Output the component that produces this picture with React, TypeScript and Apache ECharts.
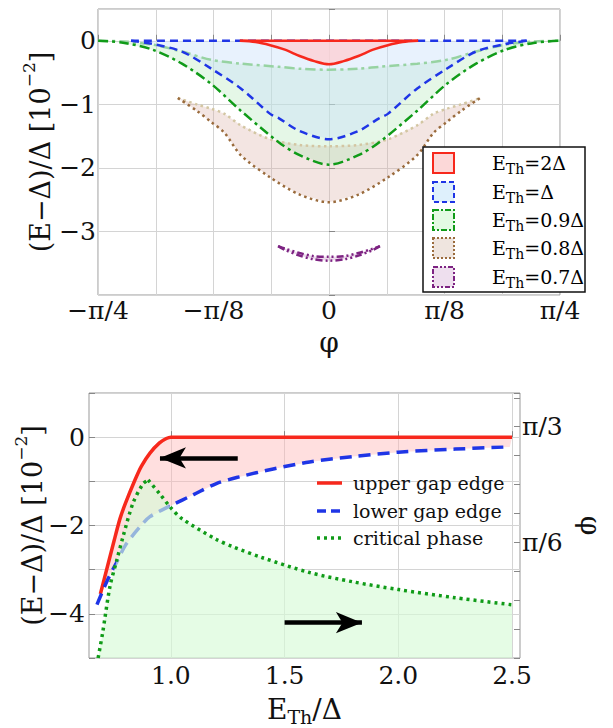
import React, { useEffect, useRef } from 'react';
import * as echarts from 'echarts';

const PI = Math.PI;
const SERIF = 'DejaVu Serif';

// ---------- Top panel: (E−Δ)/Δ [10^-2] versus φ ----------
const redUpperPhi = [-0.303, 0.303];
const redUpperE = [0, 0];
const redPhi = [-0.303, -0.25, -0.2, -0.15, -0.1, -0.05, 0, 0.05, 0.1, 0.15, 0.2, 0.25, 0.303];
const redLowerE = [0, -0.02, -0.07, -0.14, -0.24, -0.32, -0.37, -0.32, -0.24, -0.14, -0.07, -0.02, 0];

const blueUpperPhi = [-0.673, 0.673];
const blueUpperE = [0, 0];
const bluePhi = [-0.673, -0.6, -0.5, -0.4, -0.3, -0.2, -0.17, -0.1, 0, 0.1, 0.17, 0.2, 0.3, 0.4, 0.5, 0.6, 0.673];
const blueLowerE = [0, -0.05, -0.17, -0.44, -0.75, -1.15, -1.22, -1.42, -1.55, -1.42, -1.22, -1.15, -0.75, -0.44, -0.17, -0.05, 0];

const greenPhi = [-0.785, -0.7, -0.6, -0.5, -0.4, -0.3, -0.17, -0.1, 0, 0.1, 0.17, 0.3, 0.4, 0.5, 0.6, 0.7, 0.785];
const greenLowerE = [0, -0.03, -0.14, -0.36, -0.68, -1.1, -1.6, -1.8, -1.95, -1.8, -1.6, -1.1, -0.68, -0.36, -0.14, -0.03, 0];
const greenUpperE = [0, -0.01, -0.06, -0.17, -0.3, -0.36, -0.41, -0.44, -0.455, -0.44, -0.41, -0.36, -0.3, -0.17, -0.06, -0.01, 0];

const brownPhi = [-0.514, -0.45, -0.4, -0.355, -0.3, -0.2, -0.1, 0, 0.1, 0.2, 0.3, 0.355, 0.4, 0.45, 0.514];
const brownUpperE = [-0.9, -1.0, -1.07, -1.15, -1.33, -1.55, -1.64, -1.66, -1.64, -1.55, -1.33, -1.15, -1.07, -1.0, -0.9];
const brownLowerE = [-0.9, -1.1, -1.28, -1.45, -1.8, -2.15, -2.42, -2.54, -2.42, -2.15, -1.8, -1.45, -1.28, -1.1, -0.9];

const purplePhi = [-0.173, -0.15, -0.1, -0.05, 0, 0.05, 0.1, 0.15, 0.173];
const purpleUpperE = [-3.23, -3.27, -3.34, -3.39, -3.4, -3.39, -3.34, -3.27, -3.23];
const purpleLowerE = [-3.23, -3.29, -3.38, -3.44, -3.46, -3.44, -3.38, -3.29, -3.23];

const topLegendLabels = ['2Δ', 'Δ', '0.9Δ', '0.8Δ', '0.7Δ'];

// ---------- Bottom panel: versus E_Th/Δ ----------
const upperEdgeX = [0.69, 0.72, 0.75, 0.776, 0.8, 0.842, 0.87, 0.908, 0.95, 0.98, 1.0, 1.5, 2.0, 2.5];
const upperEdgeE = [-3.55, -2.95, -2.35, -1.85, -1.5, -0.97, -0.66, -0.36, -0.13, -0.03, 0, 0, 0, 0];

const lowerEdgeX = [0.675, 0.72, 0.76, 0.8, 0.864, 0.908, 1.0, 1.1, 1.2, 1.3, 1.45, 1.61, 1.8, 2.0, 2.25, 2.49];
const lowerEdgeE = [-3.79, -3.25, -2.85, -2.45, -2.03, -1.8, -1.55, -1.3, -1.05, -0.9, -0.72, -0.56, -0.44, -0.34, -0.27, -0.22];

const critX = [0.68, 0.7, 0.732, 0.763, 0.79, 0.833, 0.877, 0.9, 0.95, 1.0, 1.05, 1.2, 1.27, 1.4, 1.61, 1.8, 2.0, 2.25, 2.5];
const critPhi = [0, 0.114, 0.323, 0.446, 0.551, 0.7, 0.788, 0.806, 0.745, 0.68, 0.63, 0.537, 0.505, 0.455, 0.387, 0.345, 0.31, 0.273, 0.241];

const bottomLegendLabels = ['upper gap edge', 'lower gap edge', 'critical phase'];

const zip = (xs: number[], ys: number[]) => xs.map((x, i) => [x, ys[i]]);

function fillBetween(upper: number[][], lower: number[][], color: string, xi: number, yi: number, z = 1) {
  return {
    type: 'custom',
    xAxisIndex: xi,
    yAxisIndex: yi,
    silent: true,
    z,
    clip: true,
    data: [upper[0]],
    renderItem: (_p: any, api: any) => {
      const pts = [...upper.map((p) => api.coord(p)), ...lower.slice().reverse().map((p) => api.coord(p))];
      return { type: 'polygon', shape: { points: pts }, style: { fill: color, stroke: 'none' } };
    },
  };
}

function curve(data: number[][], color: string, width: number, dash: any, xi: number, yi: number, z = 3, extra: any = {}) {
  return {
    type: 'line',
    data,
    xAxisIndex: xi,
    yAxisIndex: yi,
    showSymbol: false,
    symbol: 'none',
    smooth: 0.3,
    silent: true,
    z,
    lineStyle: { color, width, type: dash, cap: 'butt' },
    ...extra,
  };
}

const minus = (v: number) => (v < 0 ? '\u2212' + String(-v) : String(v));

function piLabel(v: number, unit: number, map: Record<number, string>) {
  const k = Math.round(v / unit);
  if (Math.abs(v - k * unit) > 1e-6) return '';
  return map[k] ?? '';
}

export default function App() {
  const ref = useRef<HTMLDivElement>(null);
  useEffect(() => {
    if (!ref.current) return;
    const chart = echarts.init(ref.current, undefined, { renderer: 'svg' });

    const tickFont = { fontFamily: SERIF, fontSize: 25, color: '#111' };
    const gridLine = { show: true, lineStyle: { color: '#d4d4d4', width: 1 } };
    const tick = { show: true, inside: true, length: 6, lineStyle: { color: '#888' } };
    const phiFont = { fontFamily: SERIF, fontSize: 28, color: '#111', lineHeight: 24 };

    const yName = '{a|(E\u2212\u0394)/\u0394 [10}{p|\u22122}{a|]}';
    const yRich = {
      a: { fontFamily: SERIF, fontSize: 27, color: '#111', lineHeight: 40 },
      p: { fontFamily: SERIF, fontSize: 17, color: '#111', verticalAlign: 'top' },
    };

    const peak = critPhi.indexOf(Math.max(...critPhi));
    const critData = zip(critX, critPhi);

    const colors = {
      red: '#f7281c',
      blue: '#1f35e6',
      green: '#109b18',
      greenPale: '#97d3a2',
      brown: '#9a6b3c',
      brownPale: '#d3c6a2',
      purple: '#7d2382',
    };

    const legendStyles = [
      { stroke: colors.red, fill: 'rgba(250,190,190,0.6)', dash: null },
      { stroke: colors.blue, fill: 'rgba(190,225,250,0.5)', dash: [5, 3] },
      { stroke: colors.green, fill: 'rgba(200,245,200,0.5)', dash: [6, 2, 2, 2] },
      { stroke: colors.brown, fill: 'rgba(215,190,175,0.4)', dash: [2, 2] },
      { stroke: colors.purple, fill: 'rgba(200,150,200,0.3)', dash: [5, 2, 2, 2, 2, 2] },
    ];
    const legendRowY = [163, 192, 220, 248, 277];

    const graphics: any[] = [
      { type: 'rect', z: 100, shape: { x: 423, y: 147, width: 162, height: 145 }, style: { fill: '#fff', stroke: '#111', lineWidth: 1.5 } },
    ];
    topLegendLabels.forEach((lab, i) => {
      const s = legendStyles[i];
      graphics.push({
        type: 'rect', z: 101,
        shape: { x: 433, y: legendRowY[i] - 10, width: 21, height: 20 },
        style: { fill: s.fill, stroke: s.stroke, lineWidth: 2, lineDash: s.dash },
      });
      graphics.push({
        type: 'text', z: 101, x: 492, y: legendRowY[i],
        style: {
          text: '{a|E}{s|Th}{a|=' + lab + '}',
          verticalAlign: 'middle',
          rich: {
            a: { fontFamily: SERIF, fontSize: 19, color: '#111', lineHeight: 26 },
            s: { fontFamily: SERIF, fontSize: 14, color: '#111', verticalAlign: 'bottom' },
          },
        },
      });
    });
    const bottomRowY = [483, 511, 538];
    const bottomStyles = [
      { c: colors.red, dash: null },
      { c: colors.blue, dash: [9, 5] },
      { c: colors.green, dash: [3, 4] },
    ];
    bottomLegendLabels.forEach((lab, i) => {
      graphics.push({
        type: 'line', z: 101,
        shape: { x1: 317, y1: bottomRowY[i], x2: 342, y2: bottomRowY[i] },
        style: { stroke: bottomStyles[i].c, lineWidth: 3.5, lineDash: bottomStyles[i].dash },
      });
      graphics.push({
        type: 'text', z: 101, x: 353, y: bottomRowY[i],
        style: { text: lab, fontFamily: SERIF, fontSize: 19, fill: '#111', verticalAlign: 'middle' },
      });
    });

    const option: any = {
      animation: false,
      backgroundColor: '#fff',
      textStyle: { fontFamily: SERIF },
      grid: [
        { left: 98, top: 9, width: 462, height: 286, show: true, borderColor: '#999', borderWidth: 1 },
        { left: 89, top: 393, width: 431, height: 265, show: true, borderColor: '#999', borderWidth: 1 },
      ],
      xAxis: [
        {
          gridIndex: 0, type: 'value', min: -PI / 4, max: PI / 4, interval: PI / 16,
          axisLine: { show: false }, axisTick: tick, splitLine: gridLine,
          axisLabel: {
            ...tickFont, margin: 4, lineHeight: 22,
            formatter: (v: number) => piLabel(v, PI / 16, { [-4]: '\u2212\u03c0/4', [-2]: '\u2212\u03c0/8', 0: '0', 2: '\u03c0/8', 4: '\u03c0/4' }),
          },
          name: '\u03c6', nameLocation: 'middle', nameGap: 35, nameMoveOverlap: false, nameTextStyle: phiFont,
        },
        {
          gridIndex: 1, type: 'value', min: 0.64, max: 2.535,
          axisLine: { show: false },
          axisTick: { ...tick, customValues: [1, 1.5, 2, 2.5] },
          splitLine: gridLine,
          axisLabel: { ...tickFont, margin: 5, customValues: [1, 1.5, 2, 2.5], formatter: (v: number) => v.toFixed(1) },
          name: '{a|E}{s|Th}{a|/\u0394}', nameLocation: 'middle', nameGap: 34, nameMoveOverlap: false,
          nameTextStyle: {
            rich: {
              a: { fontFamily: SERIF, fontSize: 28, color: '#111', lineHeight: 34 },
              s: { fontFamily: SERIF, fontSize: 19, color: '#111', verticalAlign: 'bottom' },
            },
          },
        },
      ],
      yAxis: [
        {
          gridIndex: 0, type: 'value', min: -4, max: 0.5, interval: 1,
          axisLine: { show: false }, axisTick: tick, splitLine: gridLine,
          axisLabel: {
            ...tickFont, margin: 2,
            formatter: (v: number) => (Number.isInteger(v) && v >= -3 && v <= 0 ? minus(v) : ''),
          },
          name: yName, nameLocation: 'middle', nameGap: 38, nameRotate: 90, nameMoveOverlap: false, nameTextStyle: { rich: yRich },
        },
        {
          gridIndex: 1, type: 'value', min: -5, max: 1, interval: 1,
          axisLine: { show: false }, axisTick: tick, splitLine: gridLine,
          axisLabel: {
            ...tickFont, margin: 4,
            formatter: (v: number) => (Number.isInteger(v) && v % 2 === 0 && v <= 0 && v >= -4 ? minus(v) : ''),
          },
          name: yName, nameLocation: 'middle', nameGap: 37, nameRotate: 90, nameMoveOverlap: false, nameTextStyle: { rich: yRich },
        },
        {
          gridIndex: 1, type: 'value', position: 'right', min: 0, max: 1.2, interval: PI / 24,
          axisLine: { show: false }, axisTick: tick, splitLine: { show: false },
          axisLabel: {
            ...tickFont, margin: 2,
            formatter: (v: number) => piLabel(v, PI / 24, { 4: '\u03c0/6', 8: '\u03c0/3' }),
          },
          name: '\u03c6', nameLocation: 'middle', nameGap: 58, nameRotate: -90, nameMoveOverlap: false, nameTextStyle: phiFont,
        },
      ],
      series: [
        // top fills (green first, blue over it)
        fillBetween(zip(brownPhi, brownUpperE), zip(brownPhi, brownLowerE), 'rgba(215,170,160,0.3)', 0, 0, 1),
        fillBetween(zip(greenPhi, greenUpperE), zip(greenPhi, greenLowerE), 'rgba(170,230,175,0.3)', 0, 0, 1),
        fillBetween(zip(blueUpperPhi, blueUpperE), zip(bluePhi, blueLowerE), 'rgba(200,225,250,0.42)', 0, 0, 1),
        fillBetween(zip(purplePhi, purpleUpperE), zip(purplePhi, purpleLowerE), 'rgba(160,70,160,0.2)', 0, 0, 1),
        fillBetween(zip(redUpperPhi, redUpperE), zip(redPhi, redLowerE), 'rgba(255,205,210,0.75)', 0, 0, 1),
        // top lines
        curve(zip(greenPhi, greenUpperE), colors.greenPale, 2.5, [10, 4, 3, 4], 0, 0, 3),
        curve(zip(brownPhi, brownUpperE), colors.brownPale, 2.5, [2.5, 3.5], 0, 0, 3),
        curve(zip(brownPhi, brownLowerE), colors.brown, 2.5, [2.5, 3.5], 0, 0, 4),
        curve(zip(greenPhi, greenLowerE), colors.green, 2.5, [10, 4, 3, 4], 0, 0, 4),
        curve(zip(blueUpperPhi, blueUpperE), colors.blue, 2.5, [8, 5], 0, 0, 4),
        curve(zip(bluePhi, blueLowerE), colors.blue, 2.5, [8, 5], 0, 0, 4),
        curve(zip(purplePhi, purpleUpperE), colors.purple, 2.5, [7, 3, 2, 3, 2, 3], 0, 0, 4),
        curve(zip(purplePhi, purpleLowerE), colors.purple, 2.5, [7, 3, 2, 3, 2, 3], 0, 0, 4),
        curve(zip(redUpperPhi, redUpperE), colors.red, 2.5, 'solid', 0, 0, 5),
        curve(zip(redPhi, redLowerE), colors.red, 2.5, 'solid', 0, 0, 5),
        // bottom
        fillBetween(zip(upperEdgeX, upperEdgeE), zip(lowerEdgeX, lowerEdgeE), 'rgba(255,185,185,0.45)', 1, 1, 1),
        curve(zip(upperEdgeX, upperEdgeE), colors.red, 3.5, 'solid', 1, 1, 2, {
          smooth: 0.25,
          markLine: {
            silent: true,
            symbol: ['none', 'arrow'],
            symbolSize: [16, 26],
            label: { show: false },
            lineStyle: { color: '#000', width: 4.5, type: 'solid' },
            data: [
              [{ coord: [1.294, -0.47] }, { coord: [0.952, -0.47] }],
              [{ coord: [1.5, -4.2] }, { coord: [1.84, -4.2] }],
            ],
          },
        }),
        curve(zip(lowerEdgeX, lowerEdgeE), colors.blue, 3.5, [12, 7], 1, 1, 2),
        fillBetween(critData, [[critX[0], 0], [critX[critX.length - 1], 0]], 'rgba(215,250,215,0.65)', 1, 2, 3),
        curve(critData.slice(0, peak + 1), colors.green, 3.5, [3, 4], 1, 2, 4),
        curve(critData.slice(peak), colors.green, 3.5, [3, 4], 1, 2, 4),
      ],
      graphic: graphics,
    };
    chart.setOption(option);
    return () => chart.dispose();
  }, []);

  return <div ref={ref} style={{ position: 'absolute', left: 0, top: 0, width: 613, height: 728 }} />;
}
